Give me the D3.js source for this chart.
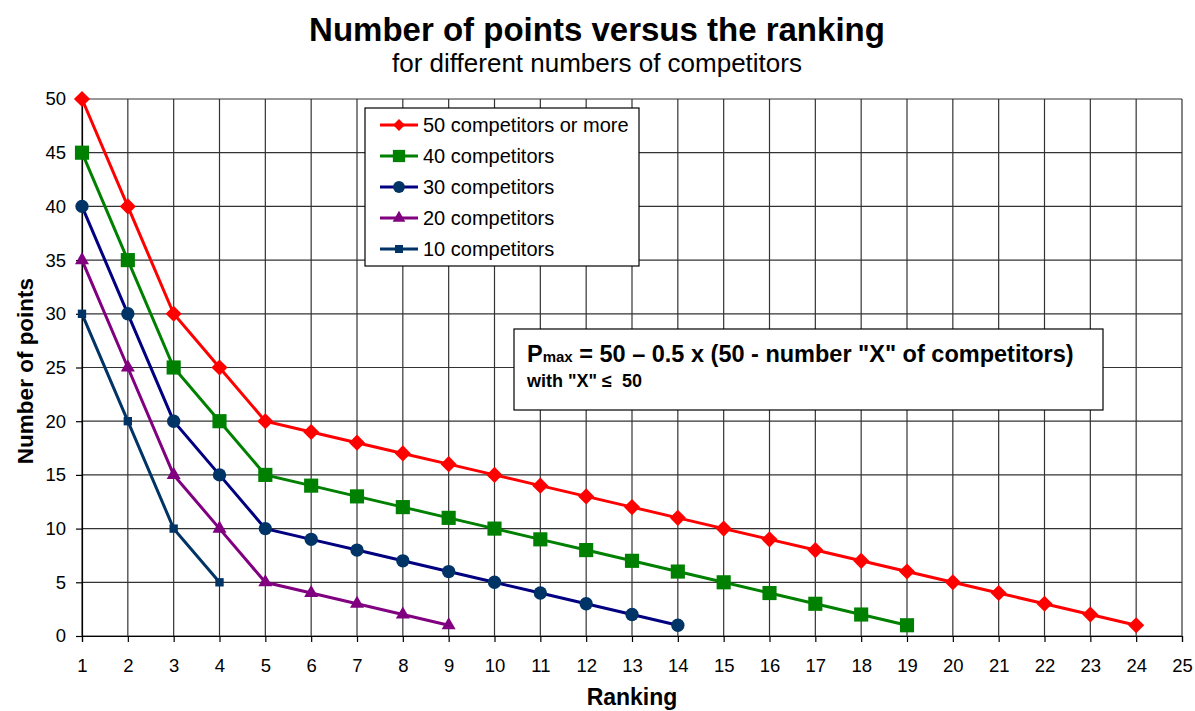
<!DOCTYPE html>
<html>
<head>
<meta charset="utf-8">
<script src="https://cdn.jsdelivr.net/npm/d3@7"></script>
<style>
  body { margin: 0; background: #fff; }
  text { font-family: "Liberation Sans", Arial, sans-serif; fill: #000; }
</style>
</head>
<body>
<div id="chart"></div>
<script>
// data
const seriesNames = ['50 competitors or more', '40 competitors', '30 competitors', '20 competitors', '10 competitors'];
const pts50 = [50, 40, 30, 25, 20, 19, 18, 17, 16, 15, 14, 13, 12, 11, 10, 9, 8, 7, 6, 5, 4, 3, 2, 1];
const pts40 = [45, 35, 25, 20, 15, 14, 13, 12, 11, 10, 9, 8, 7, 6, 5, 4, 3, 2, 1];
const pts30 = [40, 30, 20, 15, 10, 9, 8, 7, 6, 5, 4, 3, 2, 1];
const pts20 = [35, 25, 15, 10, 5, 4, 3, 2, 1];
const pts10 = [30, 20, 10, 5];
const xTicks = d3.range(1, 26);
const yTicks = [0, 5, 10, 15, 20, 25, 30, 35, 40, 45, 50];

const svgCanvas = {width: 1195, height: 711};
const plot = {left: 82, right: 1182, top: 99, bottom: 636};
const font = '"Liberation Sans", Arial, sans-serif';

// excel style diamond: a square turned 45 degrees
const symbolRhomb = {
  draw(context, size) {
    const r = Math.sqrt(size / 2);
    context.moveTo(0, -r);
    context.lineTo(r, 0);
    context.lineTo(0, r);
    context.lineTo(-r, 0);
    context.closePath();
  }
};

const styles = [
  {line: '#ff0000', fill: '#ff0000', symbol: symbolRhomb, size: 130, legSize: 70},
  {line: '#008000', fill: '#008000', symbol: d3.symbolSquare, size: 200, legSize: 150},
  {line: '#000080', fill: '#003366', symbol: d3.symbolCircle, size: 140, legSize: 110},
  {line: '#800080', fill: '#800080', symbol: d3.symbolTriangle, size: 85, legSize: 70},
  {line: '#003366', fill: '#003366', symbol: d3.symbolSquare, size: 70, legSize: 64}
];
const allSeries = [pts50, pts40, pts30, pts20, pts10].map((vals, i) => ({
  name: seriesNames[i],
  style: styles[i],
  values: vals.map((v, j) => ({rank: j + 1, pts: v}))
}));

const xScale = d3.scaleLinear().domain([1, 25]).range([plot.left, plot.right]);
const yScale = d3.scaleLinear().domain([0, 50]).range([plot.bottom, plot.top]);

const svg = d3.select('#chart').append('svg')
  .attr('width', svgCanvas.width)
  .attr('height', svgCanvas.height);

// grid
const grid = svg.append('g');
grid.selectAll('.vg').data(xTicks).enter().append('line')
  .attr('x1', d => xScale(d)).attr('x2', d => xScale(d))
  .attr('y1', plot.top).attr('y2', plot.bottom)
  .attr('stroke', '#333').attr('stroke-width', 1.2);
grid.selectAll('.hg').data(yTicks).enter().append('line')
  .attr('x1', plot.left).attr('x2', plot.right)
  .attr('y1', d => yScale(d)).attr('y2', d => yScale(d))
  .attr('stroke', '#333').attr('stroke-width', 1.2);

// axes
const xAxis = svg.append('g')
  .attr('transform', `translate(0,${plot.bottom})`)
  .call(d3.axisBottom(xScale).tickValues(xTicks).tickFormat(d3.format('d')).tickSize(6).tickPadding(17));
const yAxis = svg.append('g')
  .attr('transform', `translate(${plot.left},0)`)
  .call(d3.axisLeft(yScale).tickValues(yTicks).tickSize(6).tickPadding(10));
[xAxis, yAxis].forEach(a => {
  a.selectAll('path').attr('stroke', '#000').attr('stroke-width', 1.2);
  a.selectAll('line').attr('stroke', '#000').attr('stroke-width', 1.2);
  a.selectAll('text').style('font-size', '18.5px').style('font-family', font).attr('fill', '#000');
});

// lines and markers
const lineGen = d3.line().x(d => xScale(d.rank)).y(d => yScale(d.pts));
allSeries.forEach(s => {
  svg.append('path')
    .datum(s.values)
    .attr('d', lineGen)
    .attr('fill', 'none')
    .attr('stroke', s.style.line)
    .attr('stroke-width', 3);
});
allSeries.forEach(s => {
  svg.append('g').selectAll('path')
    .data(s.values).enter().append('path')
    .attr('d', d3.symbol().type(s.style.symbol).size(s.style.size))
    .attr('transform', d => `translate(${xScale(d.rank)},${yScale(d.pts)})`)
    .attr('fill', s.style.fill);
});

// legend
const legend = svg.append('g').attr('transform', 'translate(365,108)');
legend.append('rect').attr('width', 274).attr('height', 158)
  .attr('fill', '#fff').attr('stroke', '#000').attr('stroke-width', 1.2);
allSeries.forEach((s, i) => {
  const y = 17 + i * 31;
  legend.append('line').attr('x1', 15).attr('x2', 53).attr('y1', y).attr('y2', y)
    .attr('stroke', s.style.line).attr('stroke-width', 3);
  legend.append('path')
    .attr('d', d3.symbol().type(s.style.symbol).size(s.style.legSize))
    .attr('transform', `translate(34,${y})`)
    .attr('fill', s.style.fill);
  legend.append('text').attr('x', 58).attr('y', y + 7)
    .style('font-size', '20px').text(s.name);
});

// formula box
const box = svg.append('g').attr('transform', 'translate(514,329)');
box.append('rect').attr('width', 589).attr('height', 81)
  .attr('fill', '#fff').attr('stroke', '#000').attr('stroke-width', 1.2);
const f1 = box.append('text').attr('x', 13).attr('y', 33)
  .style('font-size', '23.5px').style('font-weight', 'bold');
f1.append('tspan').text('P');
f1.append('tspan').style('font-size', '15px').text('max');
f1.append('tspan').text(' = 50 \u2013 0.5 x (50 - number "X" of competitors)');
box.append('text').attr('x', 13).attr('y', 58)
  .style('font-size', '18px').style('font-weight', 'bold')
  .text('with "X" \u2264\u00a0 50');

// titles
svg.append('text').attr('x', 597).attr('y', 41).attr('text-anchor', 'middle')
  .style('font-size', '33px').style('font-weight', 'bold')
  .text('Number of points versus the ranking');
svg.append('text').attr('x', 597).attr('y', 72).attr('text-anchor', 'middle')
  .style('font-size', '26px')
  .text('for different numbers of competitors');
svg.append('text').attr('x', 632).attr('y', 705).attr('text-anchor', 'middle')
  .style('font-size', '23px').style('font-weight', 'bold')
  .text('Ranking');
svg.append('text').attr('transform', 'translate(33,371) rotate(-90)').attr('text-anchor', 'middle')
  .style('font-size', '22.5px').style('font-weight', 'bold')
  .text('Number of points');
</script>
</body>
</html>
